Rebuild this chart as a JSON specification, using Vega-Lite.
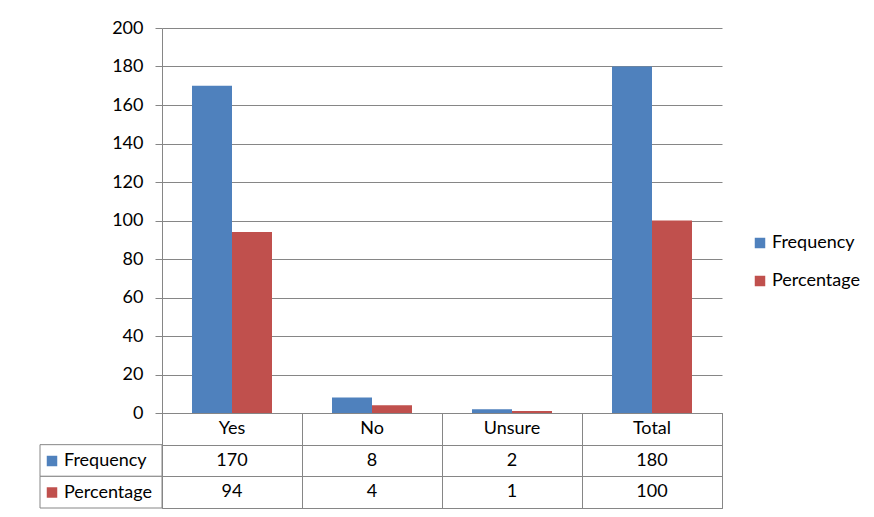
{
  "$schema": "https://vega.github.io/schema/vega-lite/v6.json",
  "padding": {"left": 39, "top": 19, "right": 5, "bottom": 5},
  "background": "white",
  "datasets": {
    "main": [
      {"category": "Yes", "series": "Frequency", "value": 170},
      {"category": "Yes", "series": "Percentage", "value": 94},
      {"category": "No", "series": "Frequency", "value": 8},
      {"category": "No", "series": "Percentage", "value": 4},
      {"category": "Unsure", "series": "Frequency", "value": 2},
      {"category": "Unsure", "series": "Percentage", "value": 1},
      {"category": "Total", "series": "Frequency", "value": 180},
      {"category": "Total", "series": "Percentage", "value": 100}
    ],
    "table": [
      {"category": "Yes", "row": "header", "text": "Yes"},
      {"category": "No", "row": "header", "text": "No"},
      {"category": "Unsure", "row": "header", "text": "Unsure"},
      {"category": "Total", "row": "header", "text": "Total"},
      {"category": "Yes", "row": "Frequency", "text": "170"},
      {"category": "No", "row": "Frequency", "text": "8"},
      {"category": "Unsure", "row": "Frequency", "text": "2"},
      {"category": "Total", "row": "Frequency", "text": "180"},
      {"category": "Yes", "row": "Percentage", "text": "94"},
      {"category": "No", "row": "Percentage", "text": "4"},
      {"category": "Unsure", "row": "Percentage", "text": "1"},
      {"category": "Total", "row": "Percentage", "text": "100"}
    ]
  },
  "columns": 2,
  "spacing": 0,
  "bounds": "flush",
  "resolve": {"scale": {"color": "independent"}, "legend": {"color": "independent"}},
  "concat": [
    {
      "width": 122,
      "height": 385,
      "data": {"values": []},
      "mark": {"type": "point", "opacity": 0},
      "encoding": {}
    },
    {
      "width": 560,
      "height": 385,
      "data": {"name": "main"},
      "mark": {"type": "bar"},
      "encoding": {
        "x": {"field": "category", "type": "nominal", "sort": ["Yes", "No", "Unsure", "Total"], "scale": {"paddingInner": 0, "paddingOuter": 0}, "axis": null},
        "xOffset": {"field": "series", "type": "nominal", "sort": ["Frequency", "Percentage"], "scale": {"paddingInner": 0, "paddingOuter": 0.75}},
        "y": {
          "field": "value", "type": "quantitative",
          "scale": {"domain": [0, 200], "nice": false},
          "axis": {"values": [0, 20, 40, 60, 80, 100, 120, 140, 160, 180, 200], "grid": true, "gridColor": "#868686", "gridOpacity": 1, "domainColor": "#868686", "tickColor": "#868686", "tickSize": 7, "labelPadding": 12, "title": null}
        },
        "color": {
          "field": "series", "type": "nominal",
          "scale": {"domain": ["Frequency", "Percentage"], "range": ["#4F81BD", "#C0504D"]},
          "legend": {"orient": "none", "legendX": 589, "legendY": 206, "rowPadding": 20}
        }
      }
    },
    {
      "width": 122,
      "height": 95,
      "data": {"name": "main"},
      "transform": [{"filter": "datum.category == 'Yes'"}],
      "encoding": {
        "y": {"field": "series", "type": "nominal", "scale": {"domain": ["header", "Frequency", "Percentage"], "paddingInner": 0, "paddingOuter": 0}, "axis": null}
      },
      "layer": [
        {"mark": {"type": "bar", "fill": "white", "stroke": "#868686", "strokeWidth": 1}},
        {
          "mark": {"type": "text", "text": ""},
          "encoding": {
            "color": {
              "field": "series", "type": "nominal",
              "scale": {"domain": ["Frequency", "Percentage"], "range": ["#4F81BD", "#C0504D"]},
              "legend": {"orient": "none", "legendX": 3, "legendY": 39, "rowPadding": 13.5}
            }
          }
        }
      ]
    },
    {
      "width": 560,
      "height": 95,
      "view": {"stroke": "#868686", "strokeWidth": 1},
      "data": {"name": "table"},
      "mark": {"type": "text"},
      "encoding": {
        "x": {"field": "category", "type": "nominal", "sort": ["Yes", "No", "Unsure", "Total"], "scale": {"paddingInner": 0, "paddingOuter": 0},
              "axis": {"grid": true, "tickBand": "extent", "labels": false, "ticks": false, "domain": false, "title": null, "gridColor": "#868686", "gridOpacity": 1}},
        "y": {"field": "row", "type": "nominal", "scale": {"domain": ["header", "Frequency", "Percentage"], "paddingInner": 0, "paddingOuter": 0},
              "axis": {"grid": true, "tickBand": "extent", "labels": false, "ticks": false, "domain": false, "title": null, "gridColor": "#868686", "gridOpacity": 1}},
        "text": {"field": "text"}
      }
    }
  ],
  "config": {
    "font": "Lato",
    "view": {"stroke": null},
    "axis": {"labelFontSize": 18, "labelColor": "#000000", "labelFont": "Lato"},
    "text": {"fontSize": 18, "font": "Lato", "color": "#000000"},
    "legend": {"title": null, "symbolType": "square", "symbolSize": 110, "symbolStrokeWidth": 0, "labelFontSize": 18, "labelFont": "Lato", "labelColor": "#000000", "labelOffset": 3, "padding": 0}
  }
}
